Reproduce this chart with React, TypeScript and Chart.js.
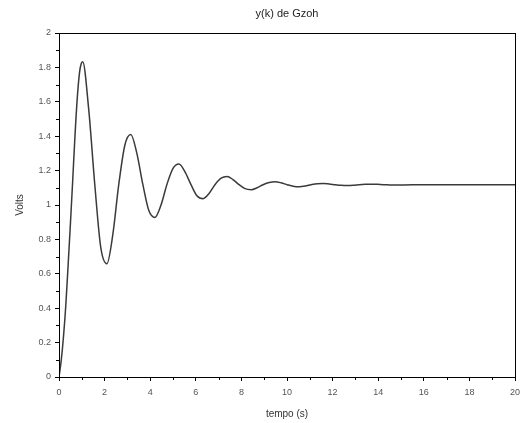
import React, { useEffect, useRef } from "react";
import { Chart, registerables } from "chart.js";

Chart.register(...registerables);

const chartTitle = "y(k) de Gzoh";
const xAxisTitle = "tempo (s)";
const yAxisTitle = "Volts";

const times = [
  0, 0.1, 0.2, 0.3, 0.4, 0.5, 0.6, 0.7, 0.8, 0.9, 0.97, 1.04,
  1.3, 1.57, 1.83, 2.1,
  2.36, 2.62, 2.89, 3.15,
  3.41, 3.68, 3.94, 4.21,
  4.47, 4.73, 5.0, 5.26,
  5.52, 5.79, 6.05, 6.32,
  6.58, 6.84, 7.11, 7.37,
  7.63, 7.9, 8.16, 8.43,
  8.69, 8.95, 9.22, 9.48,
  9.74, 10.01, 10.27, 10.54,
  10.8, 11.06, 11.33, 11.59,
  11.85, 12.12, 12.38, 12.65,
  12.91, 13.17, 13.44, 13.7,
  13.96, 14.23, 14.49, 14.76,
  15.5, 16.5, 17.5, 18.5, 19.5, 20,
];

const volts = [
  0, 0.1, 0.24, 0.42, 0.65, 0.89, 1.14, 1.4, 1.62, 1.77, 1.82, 1.833,
  1.56, 1.118, 0.755, 0.659,
  0.828, 1.118, 1.349, 1.41,
  1.303, 1.118, 0.968, 0.928,
  0.998, 1.118, 1.213, 1.238,
  1.194, 1.118, 1.054, 1.037,
  1.067, 1.118, 1.156, 1.166,
  1.148, 1.118, 1.095, 1.089,
  1.1, 1.118, 1.131, 1.135,
  1.129, 1.118, 1.109, 1.106,
  1.11, 1.118, 1.124, 1.125,
  1.122, 1.118, 1.1145, 1.1135,
  1.115, 1.118, 1.12, 1.121,
  1.12, 1.118, 1.117, 1.116,
  1.118, 1.118, 1.118, 1.118, 1.118, 1.118,
];

const xTickValues = [0, 2, 4, 6, 8, 10, 12, 14, 16, 18, 20];
const yTickValues = [0, 0.2, 0.4, 0.6, 0.8, 1, 1.2, 1.4, 1.6, 1.8, 2];

const FONT = "'Liberation Sans', Arial, sans-serif";

const framePlugin = {
  id: "framePlugin",
  afterDraw(chart: any) {
    const { ctx, chartArea } = chart;
    const xs = chart.scales.x;
    const ys = chart.scales.y;
    ctx.save();
    ctx.strokeStyle = "#000";
    ctx.lineWidth = 1;
    ctx.strokeRect(
      Math.round(chartArea.left) + 0.5,
      Math.round(chartArea.top) + 0.5,
      Math.round(chartArea.right - chartArea.left),
      Math.round(chartArea.bottom - chartArea.top)
    );
    ctx.beginPath();
    for (let i = 0; i < xTickValues.length - 1; i++) {
      const v = (xTickValues[i] + xTickValues[i + 1]) / 2;
      const px = Math.round(xs.getPixelForValue(v)) + 0.5;
      ctx.moveTo(px, chartArea.bottom);
      ctx.lineTo(px, chartArea.bottom + 3);
    }
    for (let i = 0; i < yTickValues.length - 1; i++) {
      const v = (yTickValues[i] + yTickValues[i + 1]) / 2;
      const py = Math.round(ys.getPixelForValue(v)) + 0.5;
      ctx.moveTo(chartArea.left, py);
      ctx.lineTo(chartArea.left - 3, py);
    }
    ctx.stroke();
    const cx = (chartArea.left + chartArea.right) / 2;
    const cy = (chartArea.top + chartArea.bottom) / 2;
    ctx.fillStyle = "#222";
    ctx.textAlign = "center";
    ctx.textBaseline = "middle";
    ctx.font = `11px ${FONT}`;
    ctx.fillText(chartTitle, cx, 14);
    ctx.fillStyle = "#333";
    ctx.font = `10px ${FONT}`;
    ctx.fillText(xAxisTitle, cx, 414);
    ctx.translate(20, cy);
    ctx.rotate(-Math.PI / 2);
    ctx.fillText(yAxisTitle, 0, 0);
    ctx.restore();
  },
};

export default function App() {
  const ref = useRef<HTMLCanvasElement | null>(null);
  useEffect(() => {
    document.body.style.margin = "0";
    const canvas = ref.current;
    if (!canvas) return;
    const data = times.map((t, i) => ({ x: t, y: volts[i] }));
    const chart = new Chart(canvas, {
      type: "line",
      data: {
        datasets: [
          {
            data,
            borderColor: "#3a3a3a",
            borderWidth: 1.5,
            pointRadius: 0,
            fill: false,
            cubicInterpolationMode: "monotone",
          },
        ],
      },
      options: {
        responsive: false,
        animation: false,
        devicePixelRatio: 1,
        layout: { padding: { top: 33, right: 6, bottom: 0, left: 0 } },
        plugins: {
          legend: { display: false },
          title: { display: false },
          tooltip: { enabled: false },
        },
        scales: {
          x: {
            type: "linear",
            min: 0,
            max: 20,
            afterFit(scale: any) {
              scale.height = 46;
              scale.paddingLeft = 0;
              scale.paddingRight = 0;
            },
            afterBuildTicks(scale: any) {
              scale.ticks = xTickValues.map((v) => ({ value: v }));
            },
            grid: {
              display: true,
              drawOnChartArea: false,
              drawTicks: true,
              tickLength: 4,
              color: "#000",
            },
            border: { display: true, color: "#000" },
            ticks: {
              padding: 6,
              color: "#555",
              font: { family: FONT, size: 9 },
              maxRotation: 0,
              autoSkip: false,
              callback: (v: any) => String(Number(v)),
            },
          },
          y: {
            type: "linear",
            min: 0,
            max: 2,
            afterFit(scale: any) {
              scale.width = 59;
              scale.paddingTop = 0;
              scale.paddingBottom = 0;
            },
            afterBuildTicks(scale: any) {
              scale.ticks = yTickValues.map((v) => ({ value: v }));
            },
            grid: {
              display: true,
              drawOnChartArea: false,
              drawTicks: true,
              tickLength: 4,
              color: "#000",
            },
            border: { display: true, color: "#000" },
            ticks: {
              padding: 4,
              color: "#555",
              font: { family: FONT, size: 9 },
              autoSkip: false,
              callback: (v: any) => String(Number(v)),
            },
          },
        },
      },
      plugins: [framePlugin],
    } as any);
    return () => chart.destroy();
  }, []);
  return (
    <div style={{ position: "fixed", left: 0, top: 0, width: 521, height: 423, background: "#fff" }}>
      <canvas ref={ref} width={521} height={423} style={{ width: 521, height: 423, display: "block" }} />
    </div>
  );
}
